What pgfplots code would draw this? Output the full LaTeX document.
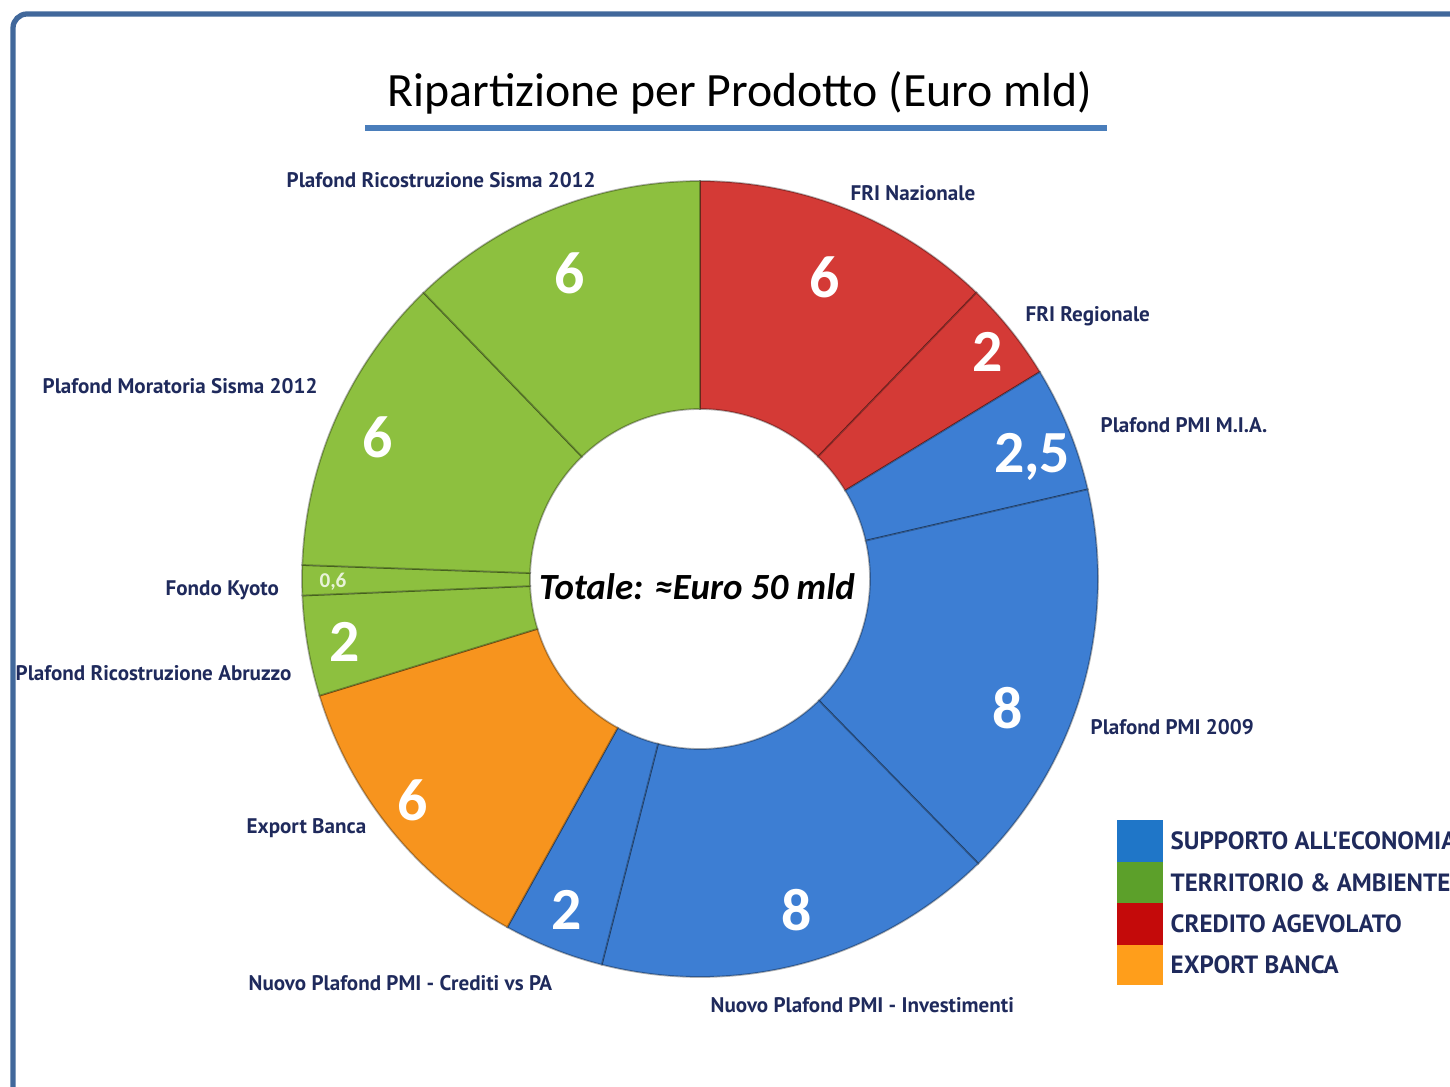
\documentclass[border=0pt]{standalone}
\usepackage{pgfplots}
\pgfplotsset{compat=1.18}
\usepackage{pgfplotstable}
\usepackage{fontspec}
\setmainfont{Carlito}
\newfontfamily\lblfont{PT Sans}
\definecolor{cred}{HTML}{D43A36}
\definecolor{csup}{HTML}{3D7ED3}
\definecolor{cterr}{HTML}{8DC03F}
\definecolor{cexp}{HTML}{F7941E}
\definecolor{lsup}{HTML}{1F76C8}
\definecolor{lterr}{HTML}{5CA02A}
\definecolor{lred}{HTML}{C40A0A}
\definecolor{lexp}{HTML}{FF9E1B}
\definecolor{frame}{HTML}{41689B}
\definecolor{uline}{HTML}{4A7EBB}
\definecolor{navy}{HTML}{1F2A5C}

\pgfplotstableread[col sep=comma]{
label,value,col
FRI Nazionale,6,cred
FRI Regionale,2,cred
Plafond PMI M.I.A.,2.5,csup
Plafond PMI 2009,8,csup
Nuovo Plafond PMI - Investimenti,8,csup
Nuovo Plafond PMI - Crediti vs PA,2,csup
Export Banca,6,cexp
Plafond Ricostruzione Abruzzo,2,cterr
Fondo Kyoto,0.6,cterr
Plafond Moratoria Sisma 2012,6,cterr
Plafond Ricostruzione Sisma 2012,6,cterr
}\prodtable

\def\total{0}
\pgfplotsforeachungrouped \i in {0,...,10}{%
  \pgfplotstablegetelem{\i}{value}\of\prodtable
  \pgfmathsetmacro\total{\total+\pgfplotsretval}%
}
\def\cum{0}
\pgfplotsforeachungrouped \i in {0,...,10}{%
  \pgfplotstablegetelem{\i}{value}\of\prodtable
  \pgfmathsetmacro\aone{90-360/\total*\cum}%
  \pgfmathsetmacro\cum{\cum+\pgfplotsretval}%
  \pgfmathsetmacro\atwo{90-360/\total*\cum}%
  \expandafter\xdef\csname sa\i\endcsname{\aone}%
  \expandafter\xdef\csname ea\i\endcsname{\atwo}%
  \pgfplotstablegetelem{\i}{col}\of\prodtable
  \expandafter\xdef\csname co\i\endcsname{\pgfplotsretval}%
}

\begin{document}
\begin{tikzpicture}
\begin{axis}[
  scale only axis, width=145mm, height=108.6mm,
  xmin=0, xmax=1450, ymin=0, ymax=1086, y dir=reverse,
  hide axis, clip=false]
% frame
\draw[frame, line width=1.5pt, rounded corners=4pt] (axis cs:13,1120) -- (axis cs:13,14) -- (axis cs:1480,14);
% title
\node[font=\fontsize{13.6}{15}\selectfont, anchor=base] at (axis cs:740,107) {Ripartizione per Prodotto (Euro mld)};
\draw[uline, line width=1.7pt] (axis cs:365,128) -- (axis cs:1107,128);
% donut
\coordinate (C) at (axis cs:700,579);
\pgfplotsinvokeforeach{0,...,10}{%
  \fill[fill=\csname co#1\endcsname, draw=black, draw opacity=0.3, line width=0.5pt]
    ([shift={(\csname sa#1\endcsname:39.8mm)}]C)
    arc[start angle=\csname sa#1\endcsname, end angle=\csname ea#1\endcsname, radius=39.8mm]
    -- ([shift={(\csname ea#1\endcsname:17mm)}]C)
    arc[start angle=\csname ea#1\endcsname, end angle=\csname sa#1\endcsname, radius=17mm]
    -- cycle;
}
% values
\begin{scope}[every node/.style={text=white, font=\bfseries\fontsize{17}{18}\selectfont}]
\node at (axis cs:825,277) {6};
\node at (axis cs:988,352) {2};
\node at (axis cs:1032,457) {2,5};
\node at (axis cs:1008,708) {8};
\node at (axis cs:797,910) {8};
\node at (axis cs:567,910) {2};
\node at (axis cs:413,800) {6};
\node at (axis cs:345,642) {2};
\node at (axis cs:378,437) {6};
\node at (axis cs:570,273) {6};
\end{scope}
\node[text=white, opacity=0.8, font=\bfseries\fontsize{6}{7}\selectfont] at (axis cs:333,582) {0,6};
% total
\node[font=\bfseries\itshape\fontsize{10.5}{12}\selectfont] at (axis cs:697,587) {Totale: ≈Euro 50 mld};
% category labels
\begin{scope}[every node/.style={anchor=west, inner sep=0pt, text=navy, font=\lblfont\bfseries\fontsize{6}{7}\selectfont}]
\node at (axis cs:286,180) {Plafond Ricostruzione Sisma 2012};
\node at (axis cs:850,193) {FRI Nazionale};
\node at (axis cs:1025,316) {FRI Regionale};
\node at (axis cs:1100,425) {Plafond PMI M.I.A.};
\node at (axis cs:1090,727) {Plafond PMI 2009};
\node at (axis cs:710,1005) {Nuovo Plafond PMI - Investimenti};
\node at (axis cs:248,983) {Nuovo Plafond PMI - Crediti vs PA};
\node at (axis cs:246,828) {Export Banca};
\node at (axis cs:15,673) {Plafond Ricostruzione Abruzzo};
\node at (axis cs:165,590) {Fondo Kyoto};
\node at (axis cs:42,386) {Plafond Moratoria Sisma 2012};
\end{scope}
% legend
\fill[lsup] (axis cs:1117,820) rectangle (axis cs:1163,862);
\fill[lterr] (axis cs:1117,862) rectangle (axis cs:1163,903);
\fill[lred] (axis cs:1117,903) rectangle (axis cs:1163,945);
\fill[lexp] (axis cs:1117,945) rectangle (axis cs:1163,985);
\begin{scope}[every node/.style={anchor=west, inner sep=0pt, text=navy, font=\lblfont\bfseries\fontsize{7.1}{8}\selectfont}]
\node at (axis cs:1170,841) {SUPPORTO ALL'ECONOMIA};
\node at (axis cs:1170,883) {TERRITORIO \& AMBIENTE};
\node at (axis cs:1170,924) {CREDITO AGEVOLATO};
\node at (axis cs:1170,965) {EXPORT BANCA};
\end{scope}
\end{axis}
\pgfresetboundingbox
\useasboundingbox (current axis.south west) rectangle (current axis.north east);
\end{tikzpicture}
\end{document}
